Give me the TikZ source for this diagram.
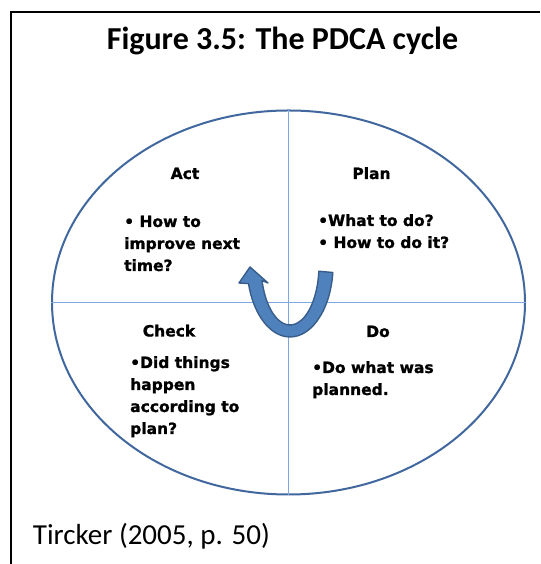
\documentclass[tikz,border=0pt]{standalone}
\usepackage{fontspec}
\setmainfont{Carlito}
\newfontfamily\qf{DejaVu Sans}[BoldFeatures={FakeBold=1.2}]
\usetikzlibrary{shapes.geometric}
\definecolor{ellblue}{HTML}{41679F}
\definecolor{lineblue}{HTML}{7EA6E0}
\definecolor{arrfill}{HTML}{4F81BD}
\definecolor{arrdraw}{HTML}{385D8A}
\begin{document}
\begin{tikzpicture}[x=1pt,y=1pt,
  frame/.style={line width=1.5pt,black},
  cyc/.style={ellipse,draw=ellblue,line width=2pt,minimum width=473pt,minimum height=384pt,inner sep=0},
  divider/.style={draw=lineblue,line width=0.9pt},
  head/.style={font=\qf\bfseries\fontsize{15.5}{22}\selectfont,inner sep=0,anchor=base},
  body/.style={font=\qf\bfseries\fontsize{15.5}{22}\selectfont,inner sep=0,anchor=base west,align=left},
  uarrow/.style={fill=arrfill,draw=arrdraw,line width=1.4pt,line join=round}]
\useasboundingbox (0,0) rectangle (540,564);
\fill[white] (0,0) rectangle (540,564);
\draw[frame] (11,0) -- (11,552) -- (540,552);
\node[font=\bfseries\fontsize{32}{34}\selectfont,anchor=base,inner sep=0] (title) at (282.5,514) {Figure 3.5: The PDCA cycle};
\node[cyc] (cyc) at (288.5,261.5) {};
\draw[divider] (cyc.west) -- (cyc.east);
\draw[divider] (cyc.north) -- (cyc.south);
\node[head] (act) at (185,385) {Act};
\node[body] (actt) at (124,293) {• How to\\improve next\\time?};
\node[head] (plan) at (371.5,385) {Plan};
\node[body] (plant) at (318,316) {•What to do?\\• How to do it?};
\node[head] (check) at (169,227.5) {Check};
\node[body] (checkt) at (130,130) {•Did things\\happen\\according to\\plan?};
\node[head] (do) at (378,227) {Do};
\node[body] (dot) at (312,169) {•Do what was\\planned.};
\draw[uarrow] (332.8,291.5) arc[start angle=-6,end angle=-165,x radius=43,y radius=72]
  -- (239,281) -- (250,297) -- (268,281) -- (262,283.5)
  arc[start angle=-165,end angle=-6,x radius=29,y radius=60] -- cycle;
\node[font=\fontsize{29}{31}\selectfont,anchor=base west,inner sep=0] (cite) at (32.7,19) {Tircker (2005, p. 50)};
\end{tikzpicture}
\end{document}
